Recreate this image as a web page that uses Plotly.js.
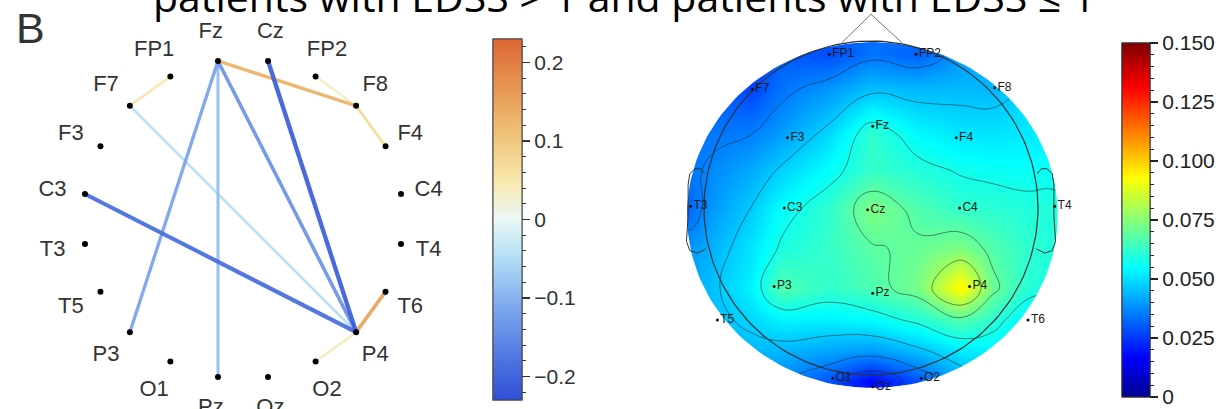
<!DOCTYPE html>
<html>
<head>
<meta charset="utf-8">
<script src="https://cdn.plot.ly/plotly-3.0.1.min.js"></script>
<style>
  html, body { margin: 0; padding: 0; background: #fff; }
  #chart { width: 1227px; height: 409px; }
</style>
</head>
<body>
<div id="chart"></div>
<script>
// ---------- connectivity ring (panel B, left) ----------
// channels placed clockwise around the ring, starting left of the top
const ringChannels = ['Fz', 'Cz', 'FP2', 'F8', 'F4', 'C4', 'T4', 'T6', 'P4', 'O2',
                      'Oz', 'Pz', 'O1', 'P3', 'T5', 'T3', 'C3', 'F3', 'F7', 'FP1'];

// connections that differ between the groups, with their difference value
const edgeFrom  = ['FP2', 'P4', 'FP1', 'F8', 'F7', 'Fz', 'Fz', 'Fz', 'Fz', 'P4', 'C3', 'Cz'];
const edgeTo    = ['F8',  'O2', 'F7',  'F4', 'P4', 'Pz', 'P3', 'F8', 'P4', 'T6', 'P4', 'P4'];
const edgeValue = [0.035, 0.04, 0.05, 0.07, -0.05, -0.09, -0.12, 0.13, -0.14, 0.15, -0.19, -0.21];

const connTickVals = [-0.2, -0.1, 0, 0.1, 0.2];
const connTickText = ['\u22120.2', '\u22120.1', '0', '0.1', '0.2'];

// ---------- scalp map (right) ----------
const topoChannels = ['FP1', 'FP2', 'F7', 'F3', 'Fz', 'F4', 'F8', 'T3', 'C3', 'Cz',
                      'C4', 'T4', 'T5', 'P3', 'Pz', 'P4', 'T6', 'O1', 'Oz', 'O2'];
// electrode locations, in head radii (nose up)
const topoX = [-0.25, 0.27, -0.71, -0.50, 0.01, 0.51, 0.74, -1.08, -0.52, -0.02,
                0.53, 1.10, -0.92, -0.58, 0.01, 0.59, 0.94, -0.23, 0.01, 0.30];
const topoY = [0.92, 0.92, 0.71, 0.42, 0.49, 0.42, 0.72, 0.01, 0.00, -0.01,
               0.00, 0.01, -0.67, -0.47, -0.51, -0.47, -0.67, -1.02, -1.07, -1.02];
const topoValue = [0.028, 0.031, 0.026, 0.040, 0.062, 0.051, 0.044, 0.032, 0.055, 0.074,
                   0.062, 0.060, 0.045, 0.067, 0.066, 0.095, 0.053, 0.029, 0.017, 0.029];

const topoTickVals = [0, 0.025, 0.05, 0.075, 0.1, 0.125, 0.15];
const topoTickText = ['0', '0.025', '0.050', '0.075', '0.100', '0.125', '0.150'];

// ---------- styling ----------
const W = 1227, H = 409;
const FONT = 'Liberation Sans, Arial, Helvetica, sans-serif';
const connRange = [-0.23, 0.23];
const connScale = [
  [0.00, '#2f4fd6'], [0.10, '#4a70e0'], [0.25, '#7aa6ec'], [0.40, '#b6e0f6'],
  [0.50, '#eaf8f6'], [0.60, '#f8eab0'], [0.75, '#eebe72'], [0.90, '#e48a4a'],
  [1.00, '#dc6634']
];
const jetScale = [
  [0.000, 'rgb(0,0,143)'], [0.111, 'rgb(0,0,255)'], [0.365, 'rgb(0,255,255)'],
  [0.619, 'rgb(255,255,0)'], [0.873, 'rgb(255,0,0)'], [1.000, 'rgb(128,0,0)']
];

function hexToRgb(h) {
  return [parseInt(h.slice(1, 3), 16), parseInt(h.slice(3, 5), 16), parseInt(h.slice(5, 7), 16)];
}
function colorFor(v) {
  const t = Math.max(0, Math.min(1, (v - connRange[0]) / (connRange[1] - connRange[0])));
  for (let k = 1; k < connScale.length; k++) {
    if (t <= connScale[k][0]) {
      const a = connScale[k - 1], b = connScale[k];
      const f = (t - a[0]) / (b[0] - a[0]);
      const ca = hexToRgb(a[1]), cb = hexToRgb(b[1]);
      const c = ca.map((x, i) => Math.round(x + (cb[i] - x) * f));
      return 'rgb(' + c.join(',') + ')';
    }
  }
  return connScale[connScale.length - 1][1];
}

const deg = Math.PI / 180;
const ringAngle = i => (99 - 18 * i) * deg;
const ringPos = name => {
  const i = ringChannels.indexOf(name);
  return [Math.cos(ringAngle(i)), Math.sin(ringAngle(i))];
};

const traces = [];

// connections, faint ones underneath
const order = edgeValue.map((v, i) => i).sort((a, b) => Math.abs(edgeValue[a]) - Math.abs(edgeValue[b]));
order.forEach(i => {
  const p = ringPos(edgeFrom[i]), q = ringPos(edgeTo[i]);
  traces.push({
    type: 'scatter', mode: 'lines', xaxis: 'x', yaxis: 'y',
    x: [p[0], q[0]], y: [p[1], q[1]],
    line: { color: colorFor(edgeValue[i]), width: 2 + 11 * Math.abs(edgeValue[i]) },
    opacity: 0.92, hoverinfo: 'skip', showlegend: false
  });
});

// electrode dots on the ring
traces.push({
  type: 'scatter', mode: 'markers', xaxis: 'x', yaxis: 'y',
  x: ringChannels.map((c, i) => Math.cos(ringAngle(i))),
  y: ringChannels.map((c, i) => Math.sin(ringAngle(i))),
  marker: { color: '#000', size: 6 },
  hoverinfo: 'skip', showlegend: false
});

// ring labels
const labelR = 1.19;
traces.push({
  type: 'scatter', mode: 'text', xaxis: 'x', yaxis: 'y',
  x: ringChannels.map((c, i) => labelR * Math.cos(ringAngle(i)) - 0.015),
  y: ringChannels.map((c, i) => labelR * Math.sin(ringAngle(i)) - 0.01),
  text: ringChannels, textposition: 'middle center',
  textfont: { family: FONT, size: 22, color: '#333' },
  cliponaxis: false, hoverinfo: 'skip', showlegend: false
});

// connectivity colour bar: minor ticks, then labelled major ticks
const connBar = {
  x: 493 / W, xanchor: 'left', xref: 'paper', xpad: 0, ypad: 0,
  y: 1 - 219.5 / H, yanchor: 'middle', yref: 'paper',
  len: 361, lenmode: 'pixels', thickness: 29, thicknessmode: 'pixels',
  outlinewidth: 1, outlinecolor: '#444'
};
traces.push({
  type: 'scatter', mode: 'markers', xaxis: 'x', yaxis: 'y', x: [99], y: [99],
  marker: { color: [0], colorscale: connScale, cmin: connRange[0], cmax: connRange[1], showscale: true,
    colorbar: Object.assign({}, connBar, { ticks: 'outside', ticklen: 4, tickwidth: 1, tickcolor: '#333',
      tickmode: 'linear', tick0: 0, dtick: 0.02, showticklabels: false }) },
  hoverinfo: 'skip', showlegend: false
});
traces.push({
  type: 'scatter', mode: 'markers', xaxis: 'x', yaxis: 'y', x: [99], y: [99],
  marker: { color: [0], colorscale: connScale, cmin: connRange[0], cmax: connRange[1], showscale: true,
    colorbar: Object.assign({}, connBar, { ticks: 'outside', ticklen: 8, tickwidth: 1.2, tickcolor: '#333',
      tickmode: 'array', tickvals: connTickVals, ticktext: connTickText,
      tickfont: { family: FONT, size: 21, color: '#333' } }) },
  hoverinfo: 'skip', showlegend: false
});

// ---------- scalp map ----------
// sampling lattice following the 10-20 rows and columns; each electrode sits on its nearest
// node and the contour trace fills the empty nodes between them
const latticeX = [-1.25, -1.09, -0.93, -0.72, -0.54, -0.25, 0, 0.28, 0.54, 0.73, 0.93, 1.09, 1.25];
const latticeY = [-1.2, -1.04, -0.86, -0.67, -0.48, -0.24, 0, 0.22, 0.45, 0.72, 0.92, 1.1];
const nearest = (arr, v) => arr.reduce((best, a, k) => Math.abs(a - v) < Math.abs(arr[best] - v) ? k : best, 0);
const meshZ = latticeY.map(() => latticeX.map(() => null));
topoChannels.forEach((c, i) => {
  meshZ[nearest(latticeY, topoY[i])][nearest(latticeX, topoX[i])] = topoValue[i];
});

const topoBar = {
  x: 1122 / W, xanchor: 'left', xref: 'paper', xpad: 0, ypad: 0,
  y: 1 - 220 / H, yanchor: 'middle', yref: 'paper',
  len: 354, lenmode: 'pixels', thickness: 28, thicknessmode: 'pixels',
  outlinewidth: 1, outlinecolor: '#333'
};

traces.push({
  type: 'contour', xaxis: 'x2', yaxis: 'y2',
  x: latticeX, y: latticeY, z: meshZ, connectgaps: true,
  zauto: false, zmin: 0, zmax: 0.15, colorscale: jetScale,
  contours: { coloring: 'heatmap', start: 0.025, end: 0.081, size: 0.011, showlines: true },
  line: { color: 'rgba(30,30,30,0.65)', width: 0.8, smoothing: 1.3 },
  showscale: true,
  colorbar: Object.assign({}, topoBar, { ticks: 'outside', ticklen: 8, tickwidth: 1.2, tickcolor: '#222',
    tickmode: 'array', tickvals: topoTickVals, ticktext: topoTickText,
    tickfont: { family: FONT, size: 21, color: '#222' } }),
  hoverinfo: 'skip'
});
traces.push({
  type: 'scatter', mode: 'markers', xaxis: 'x2', yaxis: 'y2', x: [99], y: [99],
  marker: { color: [0], colorscale: jetScale, cmin: 0, cmax: 0.15, showscale: true,
    colorbar: Object.assign({}, topoBar, { ticks: 'outside', ticklen: 4, tickwidth: 1, tickcolor: '#222',
      tickmode: 'linear', tick0: 0, dtick: 0.005, showticklabels: false }) },
  hoverinfo: 'skip', showlegend: false
});

// white surround that trims the map to its disc (left and right halves, overlapping at the seam)
const disc = { cx: 0.008, cy: -0.042, rx: 1.11, ry: 1.036 };
const box = { x0: -1.6, x1: 1.6, y0: -1.4, y1: 1.4 };
function arc(a0, a1, n) {
  const pts = [];
  for (let k = 0; k <= n; k++) {
    const a = (a0 + (a1 - a0) * k / n) * deg;
    pts.push([disc.cx + disc.rx * Math.cos(a), disc.cy + disc.ry * Math.sin(a)]);
  }
  return pts;
}
function maskHalf(ptsArc, xEdge) {
  const first = ptsArc[0], last = ptsArc[ptsArc.length - 1];
  const poly = [[first[0], box.y1], [xEdge, box.y1], [xEdge, box.y0], [last[0], box.y0]]
    .concat(ptsArc.slice().reverse());
  return {
    type: 'scatter', mode: 'lines', xaxis: 'x2', yaxis: 'y2',
    x: poly.map(p => p[0]), y: poly.map(p => p[1]), fill: 'toself', fillcolor: '#ffffff',
    line: { width: 0, color: 'rgba(0,0,0,0)' }, hoverinfo: 'skip', showlegend: false
  };
}
traces.push(maskHalf(arc(80, 280, 100), box.x0));
traces.push(maskHalf(arc(100, -100, 100), box.x1));

// head outline, nose and ears
const headX = [], headY = [];
for (let k = 0; k <= 180; k++) { headX.push(Math.cos(2 * k * deg)); headY.push(Math.sin(2 * k * deg)); }
traces.push({
  type: 'scatter', mode: 'lines', xaxis: 'x2', yaxis: 'y2', x: headX, y: headY,
  line: { color: '#333', width: 1.2 }, hoverinfo: 'skip', showlegend: false
});
const earX = [0.995, 1.02, 1.055, 1.085, 1.095, 1.095, 1.105, 1.085, 1.04, 0.99];
const earY = [0.205, 0.235, 0.235, 0.205, 0.14, -0.05, -0.20, -0.255, -0.27, -0.245];
traces.push({
  type: 'scatter', mode: 'lines', xaxis: 'x2', yaxis: 'y2',
  x: earX.concat([null], earX.map(v => -v)), y: earY.concat([null], earY),
  line: { color: '#333', width: 1 }, hoverinfo: 'skip', showlegend: false
});
traces.push({
  type: 'scatter', mode: 'lines', xaxis: 'x2', yaxis: 'y2',
  x: [-0.175, 0, 0.185], y: [0.99, 1.16, 0.99],
  line: { color: '#777', width: 1 }, hoverinfo: 'skip', showlegend: false
});

// electrodes with their names
traces.push({
  type: 'scatter', mode: 'markers+text', xaxis: 'x2', yaxis: 'y2',
  x: topoX, y: topoY, text: topoChannels, textposition: 'middle right',
  marker: { color: '#111', size: 3 },
  textfont: { family: FONT, size: 12, color: '#1a1a1a' },
  cliponaxis: false, hoverinfo: 'skip', showlegend: false
});

const layout = {
  width: W, height: H,
  margin: { l: 0, r: 0, t: 0, b: 0 },
  paper_bgcolor: '#fff', plot_bgcolor: 'rgba(0,0,0,0)',
  showlegend: false,
  xaxis: { domain: [0, 480 / W], range: [-1.51875, 1.48125], visible: false, fixedrange: true },
  yaxis: { domain: [0, 1], range: [-1.1875, 1.36875], visible: false, fixedrange: true },
  xaxis2: { domain: [620 / W, 1100 / W], range: [-1.503, 1.371], visible: false, anchor: 'y2', fixedrange: true },
  yaxis2: { domain: [0, 1], range: [-1.2036, 1.2455], visible: false, anchor: 'x2', fixedrange: true },
  annotations: [
    { text: 'patients with EDSS > 1 and patients with EDSS \u2264 1', xref: 'paper', yref: 'paper',
      x: 624 / W, y: 1 + 4 / H, xanchor: 'center', yanchor: 'middle', showarrow: false,
      font: { family: 'Open Sans, Noto Sans, sans-serif', size: 41, color: '#000' } },
    { text: 'B', xref: 'paper', yref: 'paper', x: 14 / W, y: 1 - 28 / H,
      xanchor: 'left', yanchor: 'middle', showarrow: false,
      font: { family: FONT, size: 43, color: '#333' } }
  ]
};

Plotly.newPlot('chart', traces, layout, { displayModeBar: false, staticPlot: true });
</script>
</body>
</html>
